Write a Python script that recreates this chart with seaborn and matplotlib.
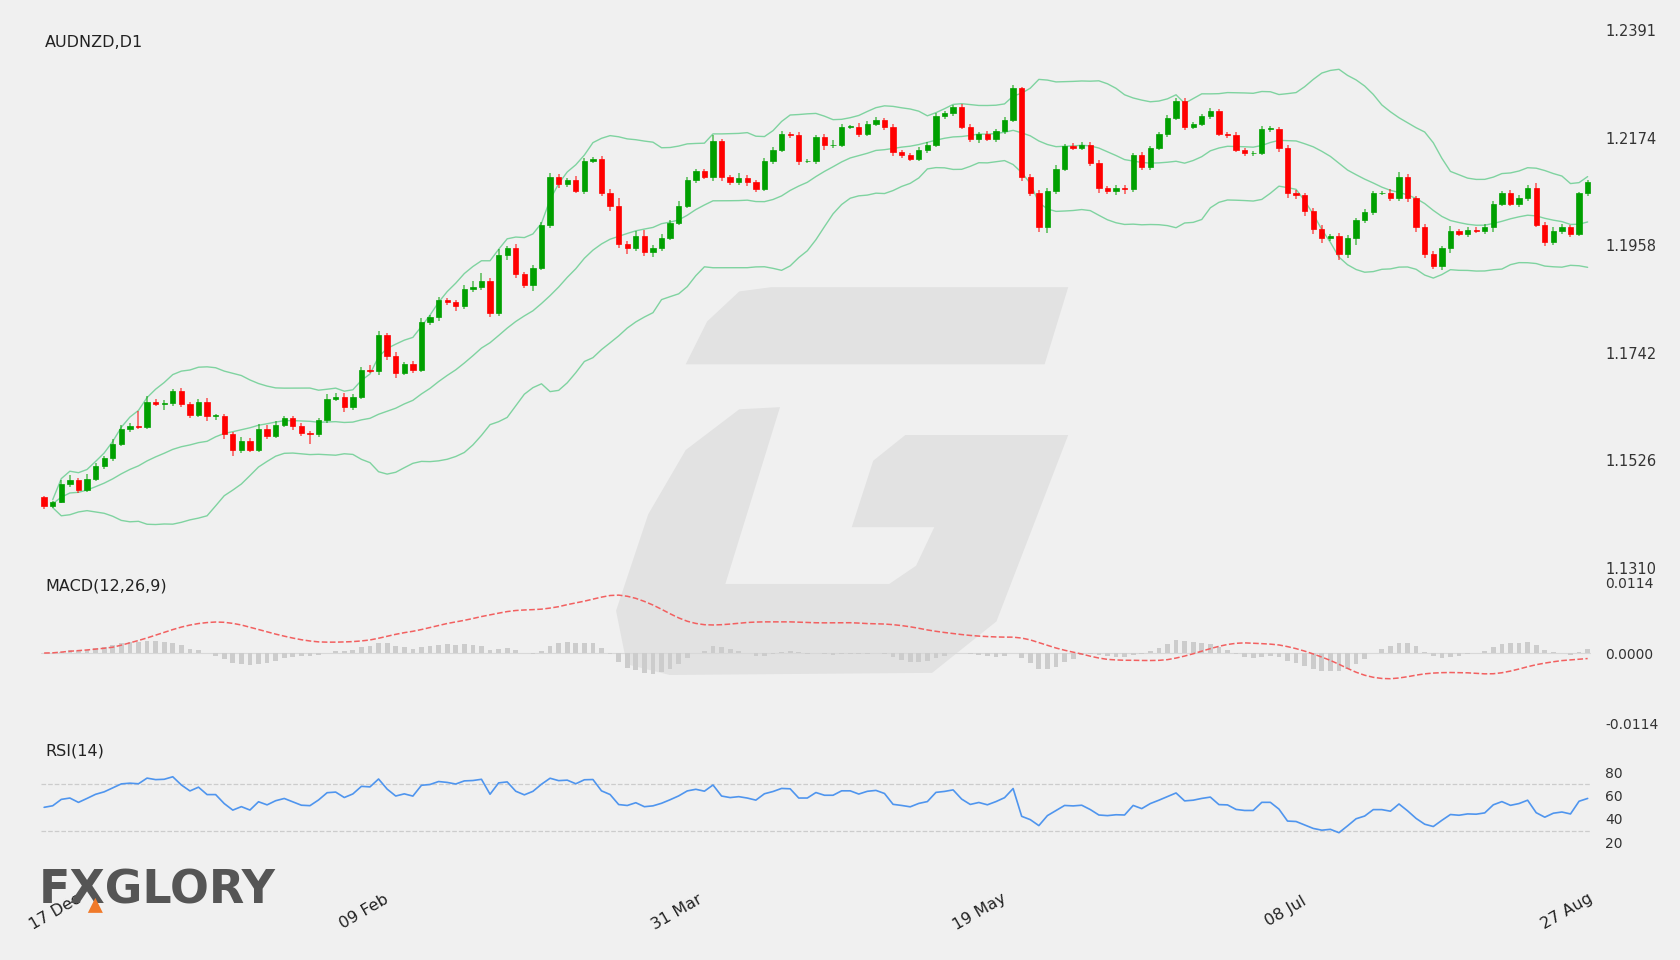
import numpy as np
import pandas as pd
import matplotlib
matplotlib.use('Agg')
import matplotlib.pyplot as plt
from matplotlib.patches import Polygon
import seaborn as sns

# daily closes, open = previous close
first_open = 1.1452
closes = [
    1.1435, 1.1443, 1.1478, 1.1486, 1.1467, 1.1489, 1.1514, 1.1530, 1.1558, 1.1590,
    1.1596, 1.1594, 1.1644, 1.1639, 1.1642, 1.1665, 1.1639, 1.1618, 1.1644, 1.1616,
    1.1616, 1.1579, 1.1547, 1.1564, 1.1547, 1.1590, 1.1575, 1.1598, 1.1611, 1.1596,
    1.1581, 1.1579, 1.1607, 1.1650, 1.1654, 1.1633, 1.1654, 1.1708, 1.1706, 1.1779,
    1.1736, 1.1702, 1.1719, 1.1708, 1.1805, 1.1814, 1.1848, 1.1844, 1.1837, 1.1870,
    1.1874, 1.1887, 1.1822, 1.1939, 1.1952, 1.1900, 1.1878, 1.1913, 1.1999, 1.2096,
    1.2081, 1.2089, 1.2068, 1.2128, 1.2132, 1.2063, 1.2038, 1.1960, 1.1952, 1.1977,
    1.1945, 1.1952, 1.1973, 1.2003, 1.2038, 1.2089, 1.2107, 1.2096, 1.2167, 1.2096,
    1.2085, 1.2094, 1.2085, 1.2072, 1.2128, 1.2150, 1.2182, 1.2180, 1.2128, 1.2128,
    1.2175, 1.2160, 1.2160, 1.2197, 1.2197, 1.2182, 1.2203, 1.2210, 1.2197, 1.2145,
    1.2139, 1.2132, 1.2150, 1.2160, 1.2218, 1.2225, 1.2236, 1.2197, 1.2171, 1.2182,
    1.2171, 1.2188, 1.2210, 1.2274, 1.2096, 1.2063, 1.1995, 1.2068, 1.2111, 1.2158,
    1.2154, 1.2160, 1.2124, 1.2074, 1.2068, 1.2074, 1.2072, 1.2139, 1.2115, 1.2154,
    1.2182, 1.2214, 1.2249, 1.2197, 1.2203, 1.2218, 1.2229, 1.2182, 1.2180, 1.2150,
    1.2143, 1.2143, 1.2193, 1.2193, 1.2154, 1.2063, 1.2059, 1.2027, 1.1992, 1.1973,
    1.1977, 1.1941, 1.1973, 1.2010, 1.2025, 1.2063, 1.2063, 1.2053, 1.2096, 1.2053,
    1.1995, 1.1941, 1.1917, 1.1952, 1.1988, 1.1982, 1.1990, 1.1988, 1.1995, 1.2042,
    1.2063, 1.2042, 1.2053, 1.2074, 1.1999, 1.1965, 1.1988, 1.1995, 1.1982, 1.2063,
    1.2085,
]
# wick lengths above / below the body, in units of 0.0001
wick_up = [
    3, 2, 8, 10, 4, 9, 6, 4, 10, 8, 6, 30, 12, 6, 5, 4, 6, 4, 5, 8,
    4, 3, 5, 8, 6, 10, 7, 8, 5, 4, 6, 5, 4, 10, 8, 7, 6, 6, 10, 8,
    4, 8, 5, 6, 8, 5, 6, 4, 5, 8, 12, 15, 6, 12, 5, 8, 5, 6, 6, 8,
    6, 5, 8, 6, 4, 6, 8, 15, 6, 10, 12, 6, 8, 6, 10, 6, 5, 4, 12, 5,
    4, 10, 6, 5, 6, 6, 7, 4, 6, 4, 5, 6, 10, 6, 4, 8, 5, 6, 5, 6,
    4, 4, 6, 5, 6, 4, 5, 6, 6, 4, 6, 5, 6, 6, 3, 5, 6, 6, 8, 4,
    5, 6, 6, 5, 4, 5, 6, 5, 6, 4, 5, 6, 6, 5, 4, 5, 6, 4, 4, 6,
    4, 5, 6, 5, 4, 6, 6, 5, 6, 8, 5, 6, 5, 4, 6, 5, 4, 8, 10, 6,
    5, 6, 6, 5, 10, 4, 6, 5, 6, 6, 5, 6, 6, 5, 10, 6, 8, 6, 4, 3,
    4,
]
wick_dn = [
    6, 4, 3, 5, 6, 4, 4, 5, 5, 4, 6, 4, 5, 4, 12, 6, 5, 6, 4, 10,
    8, 10, 12, 6, 5, 4, 6, 5, 4, 8, 5, 20, 6, 5, 4, 10, 6, 4, 5, 8,
    8, 10, 5, 6, 5, 6, 8, 6, 10, 6, 5, 6, 8, 6, 10, 8, 6, 12, 5, 6,
    8, 6, 4, 6, 5, 6, 10, 8, 12, 6, 8, 10, 6, 5, 4, 5, 6, 5, 8, 8,
    6, 5, 8, 6, 5, 6, 4, 6, 8, 5, 6, 10, 6, 5, 4, 6, 5, 4, 6, 8,
    6, 5, 4, 6, 4, 5, 6, 5, 6, 8, 4, 5, 6, 3, 8, 6, 10, 12, 6, 4,
    5, 4, 6, 10, 6, 8, 10, 6, 5, 6, 5, 6, 4, 6, 5, 4, 6, 5, 6, 5,
    6, 5, 4, 6, 8, 10, 8, 10, 12, 10, 6, 12, 8, 15, 6, 5, 4, 6, 5, 8,
    10, 8, 6, 8, 10, 6, 8, 5, 6, 10, 5, 4, 6, 5, 4, 8, 6, 6, 8, 5,
    6,
]
date_labels = ['17 Dec', '09 Feb', '31 Mar', '19 May', '08 Jul', '27 Aug']
price_ticks = [1.2391, 1.2174, 1.1958, 1.1742, 1.1526, 1.1310]
macd_ticks = [0.0114, 0.0, -0.0114]
rsi_ticks = [80, 60, 40, 20]

BG = '#f0f0f0'
GREEN = '#00a000'
RED = '#ff0000'

df = pd.DataFrame({'close': closes})
df['open'] = [first_open] + closes[:-1]
df['high'] = df[['open', 'close']].max(axis=1) + np.array(wick_up) * 1e-4
df['low'] = df[['open', 'close']].min(axis=1) - np.array(wick_dn) * 1e-4
df['i'] = np.arange(len(df))

# indicators
mid = df['close'].rolling(20, min_periods=2).mean()
sd = df['close'].rolling(20, min_periods=2).std(ddof=0)
df['bb_mid'] = mid
df['bb_up'] = mid + 2 * sd
df['bb_dn'] = mid - 2 * sd
ema12 = df['close'].ewm(span=12, adjust=False).mean()
ema26 = df['close'].ewm(span=26, adjust=False).mean()
df['macd'] = ema12 - ema26
df['signal'] = df['macd'].rolling(9, min_periods=1).mean()
df['hist'] = df['macd'] - df['signal']

# Wilder RSI, seeded neutral because the history before the window is unknown
delta = df['close'].diff().fillna(0).to_numpy()
avg_g, avg_l = 0.0012, 0.0012
rsi = []
for d in delta:
    avg_g = (avg_g * 13 + max(d, 0)) / 14
    avg_l = (avg_l * 13 + max(-d, 0)) / 14
    rsi.append(100 - 100 / (1 + avg_g / avg_l))
df['rsi'] = rsi

sns.set_style('white')
plt.rcParams['font.family'] = ['DejaVu Sans']

W, H = 1568, 896
fig = plt.figure(figsize=(16.8, 9.6), dpi=100, facecolor=BG)

def fx(x):
    return x / W

def fy(y):
    return 1 - y / H

# watermark "G"
top_bar = [(640, 340), (660, 300), (690, 272), (720, 268), (997, 268), (975, 340)]
body = [(728, 380), (690, 382), (640, 420), (605, 480), (575, 570), (585, 620),
        (625, 630), (870, 628), (930, 580), (997, 406), (845, 406), (815, 430),
        (795, 492), (872, 492), (855, 528), (830, 545), (677, 545)]
for poly in (top_bar, body):
    fig.patches.append(Polygon([(fx(x), fy(y)) for x, y in poly], closed=True,
                               transform=fig.transFigure, facecolor='#e2e2e2',
                               edgecolor='none', zorder=-5))

left, width = fx(38), fx(1485 - 38)
ax_p = fig.add_axes([left, fy(530), width, (530 - 28) / H])
ax_m = fig.add_axes([left, fy(675), width, (675 - 544) / H])
ax_r = fig.add_axes([left, fy(797), width, (797 - 710) / H])

for ax in (ax_p, ax_m, ax_r):
    ax.set_facecolor('none')
    ax.set_zorder(1)
    for s in ax.spines.values():
        s.set_visible(False)
    ax.set_xlim(-0.4, len(df) - 0.6)
    ax.yaxis.tick_right()
    ax.tick_params(axis='y', length=0, labelsize=10.5, labelcolor='#333333', pad=10)
    ax.tick_params(axis='x', length=0)

# candles
for _, r in df.iterrows():
    col = GREEN if r['close'] >= r['open'] else RED
    ax_p.vlines(r['i'], r['low'], r['high'], color=col, lw=1.2, alpha=0.6, zorder=3)
    lo, hi = sorted([r['open'], r['close']])
    ax_p.bar(r['i'], max(hi - lo, 0.00006), bottom=lo, width=0.62, color=col,
             edgecolor=col, lw=0.5, zorder=4)
for c in ('bb_up', 'bb_mid', 'bb_dn'):
    sns.lineplot(data=df, x='i', y=c, ax=ax_p, color='#7fd3a0', lw=1.0, zorder=2)
ax_p.set_ylim(price_ticks[-1], price_ticks[0])
ax_p.set_yticks(price_ticks)
ax_p.set_yticklabels([f'{t:.4f}' for t in price_ticks])
ax_p.set_xticks([])
ax_p.set_xlabel('')
ax_p.set_ylabel('')
ax_p.text(0.003, 0.99, 'AUDNZD,D1', transform=ax_p.transAxes, fontsize=11.5,
          color='#222222', va='top')

# MACD
ax_m.bar(df['i'], df['hist'], width=0.55, color='#cccccc', edgecolor='none',
         linewidth=0, zorder=2)
sns.lineplot(data=df, x='i', y='signal', ax=ax_m, color='#f26060', lw=1.1,
             linestyle='--', zorder=3)
ax_m.axhline(0, color='#d8d8d8', lw=0.8, zorder=1)
ax_m.set_ylim(-0.0114, 0.0114)
ax_m.set_yticks(macd_ticks)
ax_m.set_yticklabels([f'{t:.4f}' for t in macd_ticks], fontsize=10)
ax_m.set_xticks([])
ax_m.set_xlabel('')
ax_m.set_ylabel('')
ax_m.text(0.003, 1.03, 'MACD(12,26,9)', transform=ax_m.transAxes, fontsize=11.5,
          color='#222222', va='top')

# RSI
for lvl in (70, 30):
    ax_r.axhline(lvl, color='#cccccc', lw=0.9, ls='--', zorder=1)
sns.lineplot(data=df, x='i', y='rsi', ax=ax_r, color='#4f95ee', lw=1.2, zorder=3)
ax_r.set_ylim(10, 90)
ax_r.set_yticks(rsi_ticks)
ax_r.set_yticklabels([str(t) for t in rsi_ticks], fontsize=10)
ax_r.set_xticks([])
ax_r.set_xlabel('')
ax_r.set_ylabel('')
ax_r.text(0.003, 1.18, 'RSI(14)', transform=ax_r.transAxes, fontsize=11.5,
          color='#222222', va='top')

# date labels, rotated
label_x = [52, 340, 632, 914, 1200, 1462]
for xp, lab in zip(label_x, date_labels):
    fig.text(fx(xp), fy(851), lab, rotation=30, ha='center', va='center',
             fontsize=11.5, color='#222222')

# brand logo
fig.text(fx(36), fy(832), 'FXGLORY', fontsize=33, fontweight='bold',
         color='#555555', va='center', ha='left')
fig.patches.append(Polygon([(fx(82), fy(852)), (fx(89), fy(838)), (fx(96), fy(852))],
                           closed=True, transform=fig.transFigure,
                           facecolor='#f07a2a', edgecolor='none', zorder=5))

fig.savefig('out.png', dpi=100, facecolor=BG)
